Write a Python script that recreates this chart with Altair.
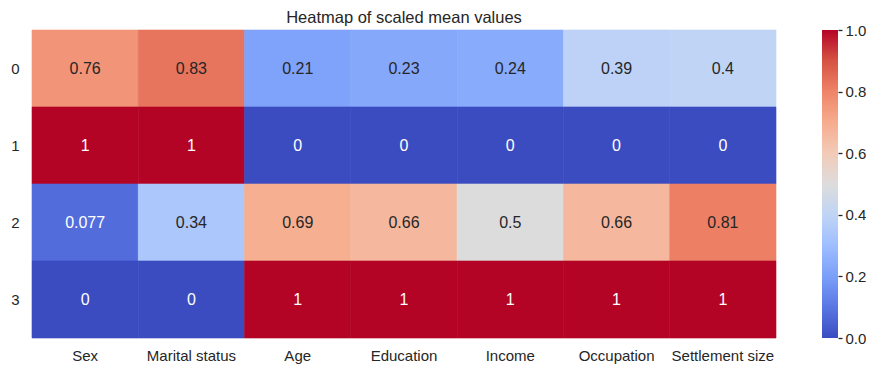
import altair as alt
import pandas as pd

columns = ["Sex", "Marital status", "Age", "Education", "Income", "Occupation", "Settlement size"]
rows = ["0", "1", "2", "3"]
values = [
    [0.76, 0.83, 0.21, 0.23, 0.24, 0.39, 0.40],
    [1.0, 1.0, 0.0, 0.0, 0.0, 0.0, 0.0],
    [0.077, 0.34, 0.69, 0.66, 0.50, 0.66, 0.81],
    [0.0, 0.0, 1.0, 1.0, 1.0, 1.0, 1.0],
]
cbar_ticks = [0.0, 0.2, 0.4, 0.6, 0.8, 1.0]

coolwarm = ['#3b4cc0', '#5977e3', '#7b9ff9', '#9ebeff', '#c0d4f5', '#dddcdc',
            '#f2cbb7', '#f7ac8e', '#ee8468', '#d65244', '#b40426']
stops_dom = [i / 10 for i in range(11)]

records = []
for r, row in zip(rows, values):
    for c, v in zip(columns, row):
        records.append({"row": r, "col": c, "value": v})
df = pd.DataFrame(records)

FONT = "Liberation Sans"
TXT = "#262626"

xenc = alt.X("col:N", sort=columns, title=None,
             scale=alt.Scale(paddingInner=0, paddingOuter=0),
             axis=alt.Axis(labelAngle=0, ticks=False, domain=False, labelPadding=10,
                           labelFontSize=15, labelColor=TXT, labelFont=FONT))
yenc = alt.Y("row:N", sort=rows, title=None,
             scale=alt.Scale(paddingInner=0, paddingOuter=0),
             axis=alt.Axis(ticks=False, domain=False, labelPadding=13, labelAngle=0,
                           labelFontSize=15, labelColor=TXT, labelFont=FONT))

cscale = alt.Scale(domain=stops_dom, range=coolwarm, interpolate="rgb")

base = alt.Chart(df).encode(x=xenc, y=yenc)

heat = base.mark_rect(strokeWidth=0.6).encode(
    color=alt.Color("value:Q", legend=None, scale=cscale),
    stroke=alt.Stroke("value:Q", legend=None, scale=cscale),
)

text = base.mark_text(font=FONT, fontSize=16).encode(
    text=alt.Text("value:Q", format=".2~g"),
    color=alt.condition("datum.value < 0.15 || datum.value > 0.9",
                        alt.value("white"), alt.value(TXT)),
)

heatmap = alt.layer(heat, text)

cbar_df = pd.DataFrame({"lo": [0.0], "hi": [1.0]})
gradient = {
    "gradient": "linear", "x1": 0, "y1": 1, "x2": 0, "y2": 0,
    "stops": [{"offset": o, "color": c} for o, c in zip(stops_dom, coolwarm)],
}
cbar = alt.Chart(cbar_df).mark_rect(color=gradient).encode(
    x=alt.value(790), x2=alt.value(806),
    y=alt.Y("lo:Q", scale=alt.Scale(domain=[0, 1], nice=False, zero=False), title=None,
            axis=alt.Axis(orient="right", offset=62, values=cbar_ticks, format=".1f",
                          domain=False, grid=False, ticks=True, tickSize=4, tickWidth=1.3,
                          tickColor=TXT, labelPadding=3, labelFontSize=15,
                          labelColor=TXT, labelFont=FONT)),
    y2="hi:Q",
)

chart = alt.layer(heatmap, cbar).resolve_scale(y="independent").properties(
    width=744, height=308,
    title=alt.TitleParams("Heatmap of scaled mean values", fontSize=16.5, font=FONT,
                          fontWeight="normal", color=TXT, anchor="middle", offset=-3,
                          frame="group"),
    autosize=alt.AutoSizeParams(type="none"),
    padding={"left": 24, "top": 22, "right": 90, "bottom": 29},
).configure_view(stroke=None)

chart.save("out.html", embed_options={"renderer": "svg", "actions": False})
